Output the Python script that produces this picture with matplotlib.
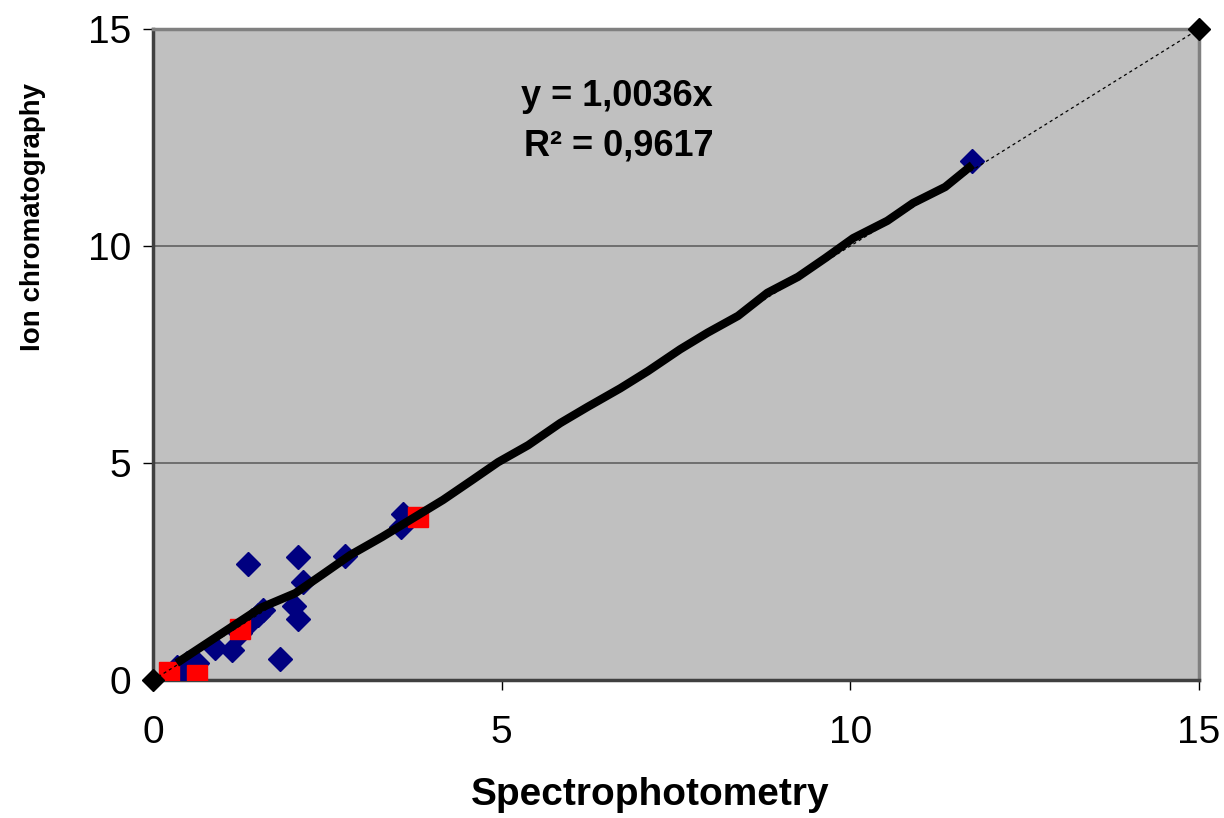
import matplotlib
matplotlib.use("Agg")
import matplotlib.pyplot as plt

plt.rcParams['font.family'] = ['Liberation Sans', 'DejaVu Sans']

# Blue diamonds (series 1)
blue_x = [0.34, 0.41, 0.49, 0.63, 0.89, 1.13, 1.25, 1.42, 1.51, 1.58,
          1.36, 2.08, 2.15, 2.02, 2.08, 1.82, 2.75, 3.59, 3.56, 11.75]
blue_y = [0.30, 0.08, 0.39, 0.39, 0.74, 0.69, 1.08, 1.38, 1.50, 1.61,
          2.67, 2.83, 2.26, 1.70, 1.40, 0.48, 2.85, 3.82, 3.52, 11.96]

# Red squares (series 2)
red_x = [0.23, 0.63, 1.25, 3.80]
red_y = [0.18, 0.12, 1.17, 3.75]

# Black diamonds (reference points)
ref_x = [0, 15]
ref_y = [0, 15]

# Thick black curve
curve_x = [0.34, 1.54, 2.04, 2.42, 2.83, 3.29, 3.73, 4.16, 4.58, 4.95, 5.38,
           5.84, 6.23, 6.70, 7.10, 7.56, 7.95, 8.39, 8.81, 9.25, 9.64, 10.04,
           10.53, 10.90, 11.36, 11.75]
curve_y = [0.39, 1.66, 2.00, 2.42, 2.88, 3.30, 3.73, 4.15, 4.61, 5.02, 5.41,
           5.92, 6.29, 6.72, 7.12, 7.62, 8.00, 8.39, 8.92, 9.29, 9.72, 10.18,
           10.58, 10.99, 11.36, 11.87]

x_ticks = [0, 5, 10, 15]
y_ticks = [0, 5, 10, 15]

fig = plt.figure(figsize=(12.24, 8.18), dpi=100)
ax = fig.add_axes([153/1224, 1-680/818, (1199-153)/1224, (680-29)/818])
ax.set_facecolor('#c0c0c0')

ax.set_xlim(0, 15)
ax.set_ylim(0, 15)
ax.set_xticks(x_ticks)
ax.set_yticks(y_ticks)
ax.tick_params(axis='both', direction='out', length=7, width=1, color='#000000',
               labelsize=28)
ax.tick_params(axis='y', pad=9)
ax.tick_params(axis='x', pad=18)

for y in [5, 10]:
    ax.axhline(y, color='#606060', lw=1.2, zorder=1)

for side in ['top', 'right']:
    ax.spines[side].set_color('#808080')
    ax.spines[side].set_linewidth(2.5)
for side in ['left', 'bottom']:
    ax.spines[side].set_color('#404040')
    ax.spines[side].set_linewidth(2.5)

ax.plot(blue_x, blue_y, linestyle='none', marker='D', markersize=12.5,
        color='#000080', zorder=3)
ax.plot(red_x, red_y, linestyle='none', marker='s', markersize=14,
        color='#ff0000', zorder=4)
ax.plot(ref_x, ref_y, linestyle=(0, (2.5, 2.5)), lw=0.9, color='black',
        zorder=5)
ax.plot(curve_x, curve_y, color='black', lw=6, solid_capstyle='butt',
        solid_joinstyle='round', zorder=6)
ax.plot(ref_x, ref_y, linestyle='none', marker='D', markersize=11,
        color='black', zorder=7, clip_on=False)

ax.text(617/1224, 1-97/818, 'y = 1,0036x', transform=fig.transFigure,
        ha='center', va='center', fontsize=26, fontweight='bold')
ax.text(619/1224, 1-146/818, 'R² = 0,9617', transform=fig.transFigure,
        ha='center', va='center', fontsize=26, fontweight='bold')

fig.text(33/1224, 1-217/818, 'Ion chromatography', rotation=90,
         ha='center', va='center', fontsize=20, fontweight='bold')
fig.text(650/1224, 1-795/818, 'Spectrophotometry',
         ha='center', va='center', fontsize=28, fontweight='bold')

fig.savefig('out.png', dpi=100)
